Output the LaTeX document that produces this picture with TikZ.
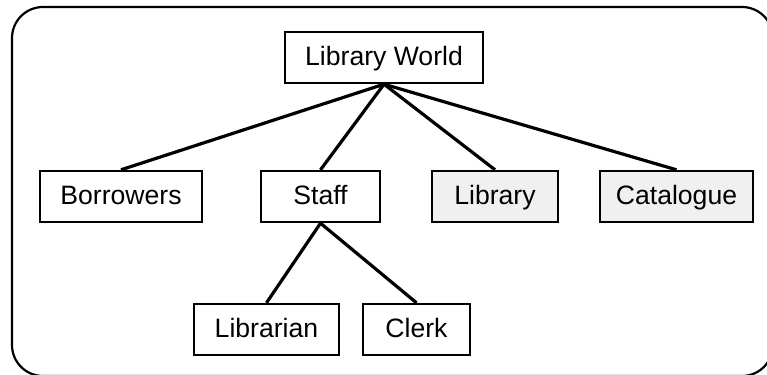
\documentclass[tikz,border=0pt]{standalone}
\usepackage{fontspec}
\setmainfont{Liberation Sans}
\begin{document}
\begin{tikzpicture}
			[x=0.5pt,y=-0.5pt,inner sep=0pt,
			plain/.style={rectangle,draw,line width=1.2pt,minimum height=25.5pt,
				text height=10.2pt,text depth=1.8pt,
				font=\fontsize{13.3}{15}\selectfont},
			shaded/.style={plain,fill=black!6},
			link/.style={line width=1.6pt}]
			\useasboundingbox (0,0) rectangle (767,375);
			\draw[line width=1.1pt,rounded corners=15.5pt] (12,7) rectangle (773,376);
			\path node (world)     at (384,57.5)    [plain,minimum width=99pt]  {Library World}
				  node (borrowers) at (121,196.5)   [plain,minimum width=81pt]  {Borrowers}
				  node (staff)     at (320.5,196.5) [plain,minimum width=59.5pt] {Staff}
				  node (library)   at (495,196.5)   [shaded,minimum width=63pt] {Library}
				  node (catalogue) at (676.5,196.5) [shaded,minimum width=76.5pt] {Catalogue}
				  node (librarian) at (266.5,329.5) [plain,minimum width=72.5pt] {Librarian}
				  node (clerk)     at (416.5,329.5) [plain,minimum width=53.5pt] {Clerk};
			\draw[link] (world.south) -- (borrowers.north);
			\draw[link] (world.south) -- (staff.north);
			\draw[link] (world.south) -- (library.north);
			\draw[link] (world.south) -- (catalogue.north);
			\draw[link] (staff.south) -- (librarian.north);
			\draw[link] (staff.south) -- (clerk.north);
		\end{tikzpicture}
\end{document}
